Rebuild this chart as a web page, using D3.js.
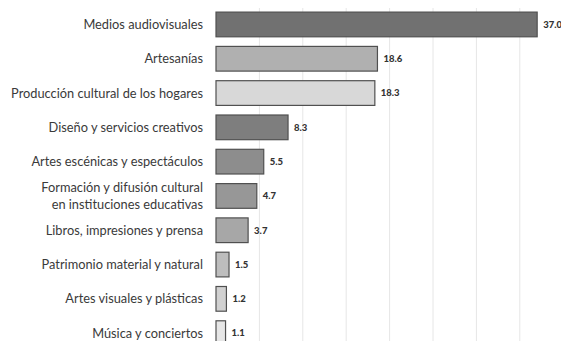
<!DOCTYPE html>
<html><head><meta charset="utf-8">
<script src="https://cdn.jsdelivr.net/npm/d3@7"></script>
<style>body{margin:0;background:#fff}svg{display:block}</style>
</head><body>
<script>
const categories = ["Medios audiovisuales","Artesanías","Producción cultural de los hogares","Diseño y servicios creativos","Artes escénicas y espectáculos","Formación y difusión cultural\nen instituciones educativas","Libros, impresiones y prensa","Patrimonio material y natural","Artes visuales y plásticas","Música y conciertos"];
const values = [37.0,18.6,18.3,8.3,5.5,4.7,3.7,1.5,1.2,1.1];
const colors = ["#717171","#b0b0b0","#d8d8d8","#7e7e7e","#8d8d8d","#979797","#a7a7a7","#bdbdbd","#d1d1d1","#e6e6e6"];
const ticks = [5,10,15,20,25,30,35];

const W=561,H=341;
const x0=216, pxPerUnit=8.68;
const x=d3.scaleLinear().domain([0,37]).range([x0,x0+37*pxPerUnit]);
const y=d3.scaleBand().domain(categories).range([7.3,350.3]).paddingInner(0.28).paddingOuter(0.14);

const svg=d3.select("body").append("svg").attr("width",W).attr("height",H);
svg.append("g").selectAll("line").data(ticks).join("line")
  .attr("x1",d=>x(d)).attr("x2",d=>x(d)).attr("y1",8).attr("y2",H)
  .attr("stroke","#e6e6e6").attr("stroke-width",1);

svg.append("g").selectAll("rect").data(values).join("rect")
  .attr("x",x(0)).attr("y",(d,i)=>y(categories[i]))
  .attr("width",d=>x(d)-x(0)).attr("height",y.bandwidth())
  .attr("fill",(d,i)=>colors[i]).attr("stroke","#505050").attr("stroke-width",1.2);

svg.append("g").selectAll("text").data(values).join("text")
  .attr("x",d=>x(d)+6).attr("y",(d,i)=>y(categories[i])+y.bandwidth()/2)
  .attr("dy","0.35em").attr("font-family","Lato, sans-serif").attr("font-size",9.5)
  .attr("font-weight","900").attr("fill","#333").text(d=>d.toFixed(1));

const lab=svg.append("g").attr("font-family","Lato, sans-serif").attr("font-size",12.8).attr("fill","#3a3a3a").attr("text-anchor","end");
categories.forEach((c,i)=>{
  const lines=c.split("\n");
  const cy=y(c)+y.bandwidth()/2;
  const t=lab.append("text").attr("x",203).attr("y",cy);
  lines.forEach((l,j)=>{
    t.append("tspan").attr("x",203).attr("y",cy+(j-(lines.length-1)/2)*17).attr("dy","0.35em").text(l);
  });
});
</script>
</body></html>
